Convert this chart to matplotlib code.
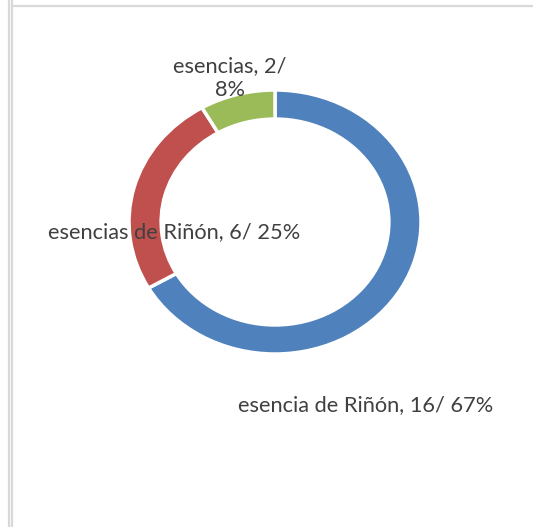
import matplotlib.pyplot as plt
from matplotlib.lines import Line2D

# doughnut data
names = ['esencia de Riñón', 'esencias de Riñón', 'esencias']
counts = [16, 6, 2]
colors = ['#4F81BD', '#C0504D', '#9BBB59']

W, H = 533, 527
fig = plt.figure(figsize=(W/100., H/100.), dpi=100)
fig.patch.set_facecolor('white')

def px(x, y):
	# pixel position (from top left) -> figure fraction
	return x/float(W), 1.0 - y/float(H)

# frame lines around the chart area
grey = '#d9d9d9'
fig.add_artist(Line2D([8.5/W, 8.5/W], [0, 1], color=grey, lw=1.6))
fig.add_artist(Line2D([11.5/W, 11.5/W], [0, 1], color=grey, lw=1.6))
fig.add_artist(Line2D([11.5/W, 532./W], [1-5.5/H, 1-5.5/H], color=grey, lw=1.6))

# ring is a bit wider than tall
cx, cy, rx, ry = 275, 222, 146, 132
ax = fig.add_axes([(cx-rx)/float(W), (H-cy-ry)/float(H), 2*rx/float(W), 2*ry/float(H)])
ax.pie(counts, colors=colors, startangle=90, counterclock=False, radius=1.0,
	wedgeprops=dict(width=0.22, edgecolor='white', linewidth=2.5))
ax.set_aspect('auto')
ax.set_xlim(-1, 1)
ax.set_ylim(-1, 1)
ax.axis('off')

total = float(sum(counts))
labels = ['{}, {}/ {:.0f}%'.format(n, c, 100*c/total) for n, c in zip(names, counts)]
labels[2] = labels[2].replace('/ ', '/\n')

font = dict(family=['Lato', 'DejaVu Sans'], size=15.7, color='#404040')
pos = [(366, 405), (174, 232), (230, 78)]
for lab, (x, y) in zip(labels, pos):
	fx, fy = px(x, y)
	fig.text(fx, fy, lab, ha='center', va='center', linespacing=1.3, **font)

fig.savefig('out.png', dpi=100, facecolor='white')
